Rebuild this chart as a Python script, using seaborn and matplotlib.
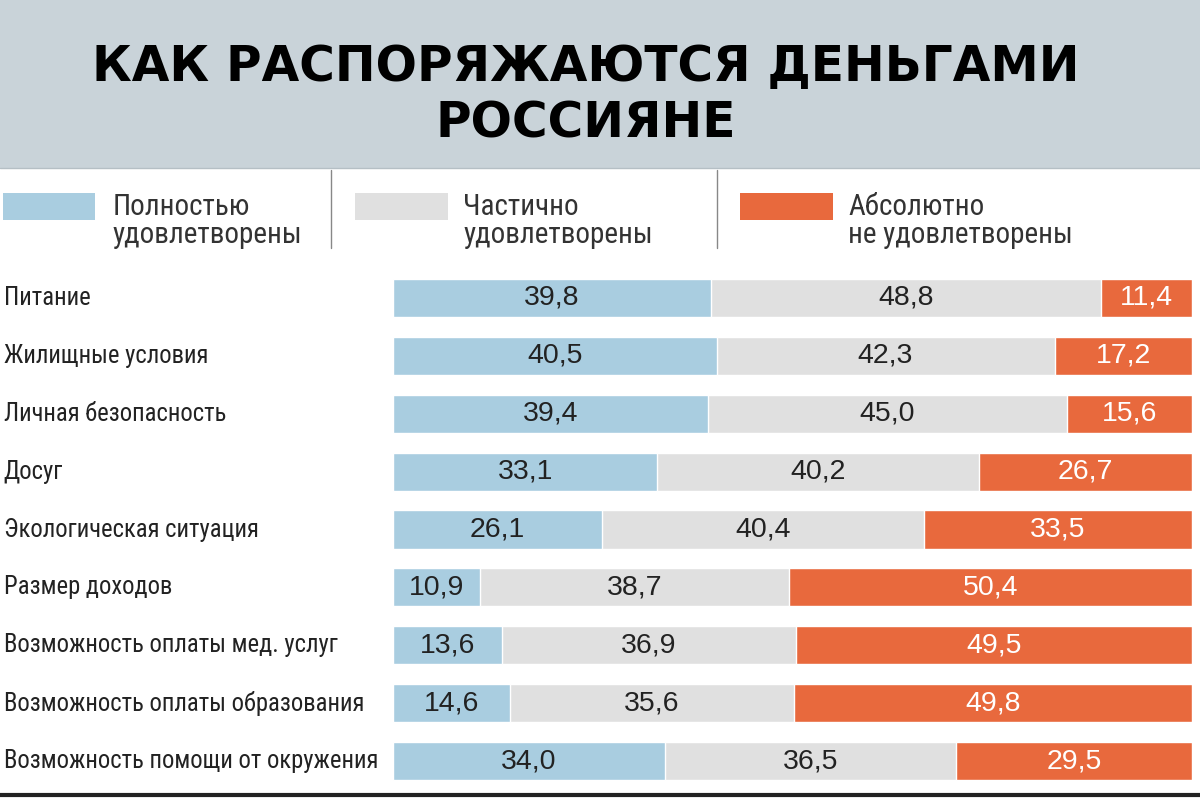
import pandas as pd
import matplotlib.pyplot as plt
import matplotlib.transforms as mtransforms
from matplotlib.patches import Rectangle
from matplotlib.lines import Line2D
import seaborn as sns

# Data
categories = [
    "Питание",
    "Жилищные условия",
    "Личная безопасность",
    "Досуг",
    "Экологическая ситуация",
    "Размер доходов",
    "Возможность оплаты мед. услуг",
    "Возможность оплаты образования",
    "Возможность помощи от окружения",
]
full = [39.8, 40.5, 39.4, 33.1, 26.1, 10.9, 13.6, 14.6, 34.0]
partial = [48.8, 42.3, 45.0, 40.2, 40.4, 38.7, 36.9, 35.6, 36.5]
none_ = [11.4, 17.2, 15.6, 26.7, 33.5, 50.4, 49.5, 49.8, 29.5]

legend_labels = ["Полностью\nудовлетворены", "Частично\nудовлетворены", "Абсолютно\nне удовлетворены"]
colors = ["#a9cde0", "#e0e0e0", "#e8693d"]

df = pd.DataFrame({"cat": categories, "full": full, "partial": partial, "none": none_})
df["c1"] = df["full"]
df["c2"] = df["full"] + df["partial"]
df["c3"] = df["full"] + df["partial"] + df["none"]

sns.set_theme(style="white")
narrow = ["Roboto Condensed", "DejaVu Sans"]
plt.rcParams["font.family"] = narrow
num_font = ["Liberation Sans", "DejaVu Sans"]

fig = plt.figure(figsize=(12, 8), dpi=100)
fig.patch.set_facecolor("white")

# header band
fig.add_artist(Rectangle((0, 0.79), 1, 0.21, transform=fig.transFigure,
                         facecolor="#c9d3d9", edgecolor="none", zorder=0))
fig.add_artist(Line2D([0, 1], [0.79, 0.79], transform=fig.transFigure, color="#b5bfc5", lw=1))
fig.text(0.488, 0.916, "КАК РАСПОРЯЖАЮТСЯ ДЕНЬГАМИ", ha="center", va="center",
         fontsize=35, fontweight="bold", family=["DejaVu Sans"], color="black")
fig.text(0.488, 0.846, "РОССИЯНЕ", ha="center", va="center",
         fontsize=35, fontweight="bold", family=["DejaVu Sans"], color="black")

# legend
patch_x = [0.0025, 0.296, 0.617]
text_x = [0.094, 0.386, 0.707]
for px, tx, lab, col in zip(patch_x, text_x, legend_labels, colors):
    fig.add_artist(Rectangle((px, 0.725), 0.077, 0.034, transform=fig.transFigure,
                             facecolor=col, edgecolor="none"))
    fig.text(tx, 0.724, lab, ha="left", va="center", fontsize=21, color="#333333",
             linespacing=1.0)
for sx in [0.276, 0.5975]:
    fig.add_artist(Line2D([sx, sx], [0.69, 0.787], transform=fig.transFigure, color="#888888", lw=1))

# bars
ax = fig.add_axes([0.3275, 0.0125, 0.6658, 0.65125])
sns.barplot(data=df, y="cat", x="c3", color=colors[2], orient="h", width=0.66, ax=ax, saturation=1)
sns.barplot(data=df, y="cat", x="c2", color=colors[1], orient="h", width=0.66, ax=ax, saturation=1)
sns.barplot(data=df, y="cat", x="c1", color=colors[0], orient="h", width=0.66, ax=ax, saturation=1)
ax.set_xlim(0, 100)
ax.set_ylim(len(categories) - 0.5, -0.5)
ax.axis("off")

def fmt(v):
    return f"{v:.1f}".replace(".", ",")

for i, row in df.iterrows():
    ax.text(row["full"] / 2, i, fmt(row["full"]), ha="center", va="center", fontsize=20.5,
            color="#222222", family=num_font)
    ax.text(row["full"] + row["partial"] / 2, i, fmt(row["partial"]), ha="center", va="center",
            fontsize=20.5, color="#222222", family=num_font)
    ax.text(row["c2"] + row["none"] / 2, i, fmt(row["none"]), ha="center", va="center",
            fontsize=20.5, color="white", family=num_font)

trans = mtransforms.blended_transform_factory(fig.transFigure, ax.transData)
for i, cat in enumerate(categories):
    ax.text(0.003, i, cat, transform=trans, ha="left", va="center", fontsize=17.7, color="#222222")

# bottom rule
fig.add_artist(Line2D([0, 1], [0.006, 0.006], transform=fig.transFigure, color="#222222", lw=3))

fig.savefig("out.png", dpi=100)
